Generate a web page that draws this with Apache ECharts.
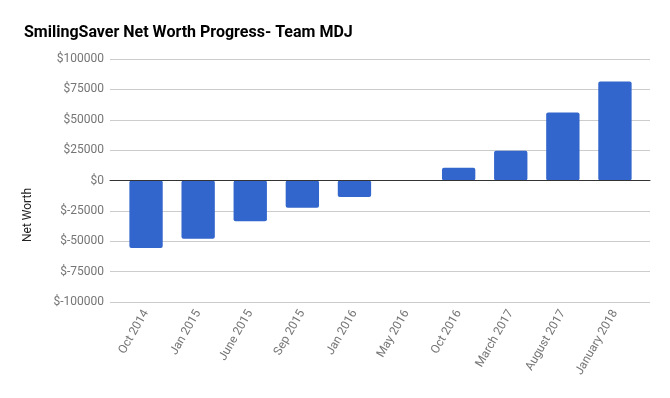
<!DOCTYPE html>
<html>
<head>
<meta charset="utf-8">
<script src="https://cdn.jsdelivr.net/npm/echarts@6/dist/echarts.min.js"></script>
<style>
  html, body { margin: 0; padding: 0; background: #fff; }
  #chart { width: 670px; height: 398px; }
</style>
</head>
<body>
<div id="chart"></div>
<script>
var categories = ['Oct 2014', 'Jan 2015', 'June 2015', 'Sep 2015', 'Jan 2016',
    'May 2016', 'Oct 2016', 'March 2017', 'August 2017', 'January 2018'];
var netWorth = [-55500, -48000, -33500, -22500, -13500, 0, 10500, 24500, 56000, 81500];
var yTicks = { min: -100000, max: 100000, step: 25000 };

var dom = document.getElementById('chart');
var myChart = echarts.init(dom, null, { renderer: 'canvas' });

var labelColor = '#757575';
var font = 'Roboto, Arial, sans-serif';

var option = {
    animation: false,
    backgroundColor: '#fff',
    title: {
        text: 'SmilingSaver Net Worth Progress- Team MDJ',
        left: 19,
        top: 20,
        textStyle: { fontFamily: font, fontSize: 16, fontWeight: 'bold', color: '#000' }
    },
    graphic: [{
        type: 'text',
        x: 28,
        y: 215,
        rotation: Math.PI / 2,
        style: {
            text: 'Net Worth',
            fontFamily: font,
            fontSize: 12,
            fill: '#222',
            align: 'center',
            verticalAlign: 'middle'
        }
    }],
    // grid 0 holds the gridlines, grid 1 holds the bars (narrower, like Google Charts padding)
    grid: [
        { left: 110, right: 20, top: 59, bottom: 96 },
        { left: 120, right: 29, top: 59, bottom: 96 }
    ],
    xAxis: [
        {
            type: 'category',
            gridIndex: 0,
            data: categories,
            axisLine: { show: true, onZero: true, lineStyle: { color: '#333', width: 1 } },
            axisTick: { show: false },
            axisLabel: { show: false },
            z: 10
        },
        {
            type: 'category',
            gridIndex: 1,
            data: categories,
            axisLine: { show: false },
            axisTick: { show: false },
            axisLabel: {
                rotate: 60,
                margin: 9,
                color: labelColor,
                fontFamily: font,
                fontSize: 12,
                interval: 0
            }
        }
    ],
    yAxis: [
        {
            type: 'value',
            gridIndex: 0,
            min: yTicks.min,
            max: yTicks.max,
            interval: yTicks.step,
            axisLine: { show: false },
            axisTick: { show: false },
            axisLabel: {
                margin: 6,
                color: labelColor,
                fontFamily: font,
                fontSize: 12,
                formatter: function (v) { return '$' + v; }
            },
            splitLine: { lineStyle: { color: '#cccccc', width: 1 } }
        },
        {
            type: 'value',
            gridIndex: 1,
            min: yTicks.min,
            max: yTicks.max,
            interval: yTicks.step,
            show: false,
            splitLine: { show: false }
        }
    ],
    series: [{
        type: 'bar',
        xAxisIndex: 1,
        yAxisIndex: 1,
        data: netWorth,
        barCategoryGap: '36%',
        itemStyle: { color: '#3366cc', borderRadius: 2 },
        z: 5
    }]
};

myChart.setOption(option);
window.addEventListener('resize', myChart.resize);
</script>
</body>
</html>
